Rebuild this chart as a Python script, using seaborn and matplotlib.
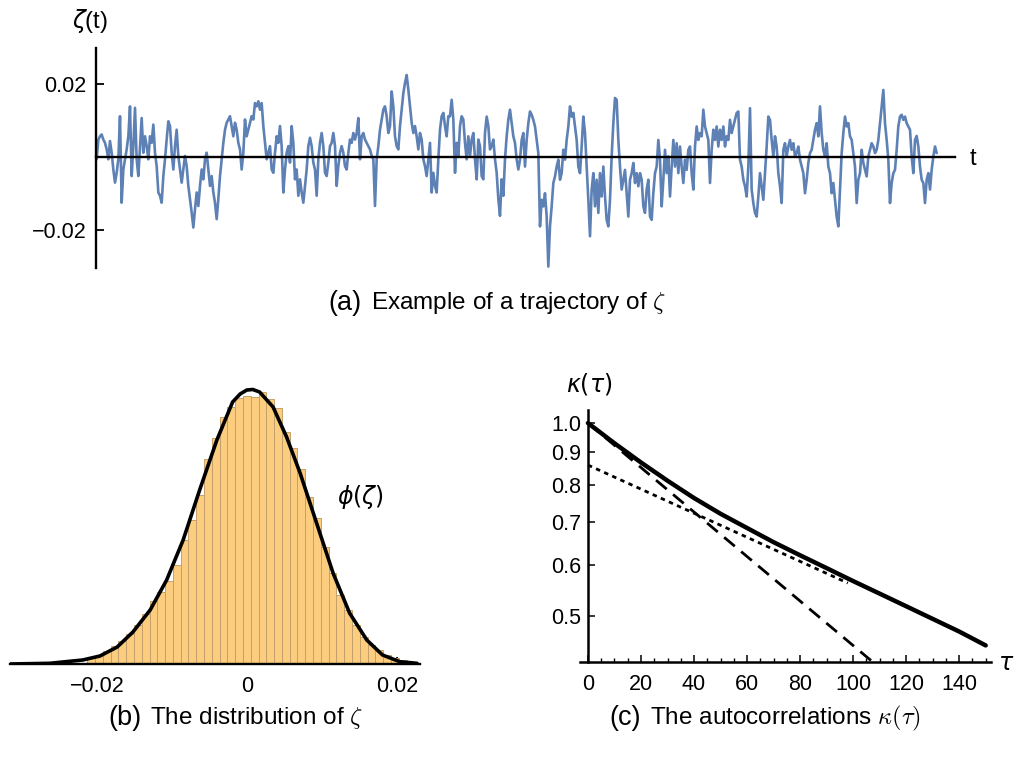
import numpy as np
import matplotlib
matplotlib.use("Agg")
import matplotlib.pyplot as plt
import seaborn as sns
from matplotlib.ticker import FixedLocator, FixedFormatter, NullLocator, MultipleLocator

sns.set_theme(style="white")
plt.rcParams["font.family"] = ["Liberation Sans", "DejaVu Sans"]
plt.rcParams["mathtext.fontset"] = "dejavusans"
plt.rcParams["axes.unicode_minus"] = True
plt.rcParams["text.color"] = "black"
plt.rcParams["xtick.color"] = "black"
plt.rcParams["ytick.color"] = "black"
plt.rcParams["xtick.labelcolor"] = "black"
plt.rcParams["ytick.labelcolor"] = "black"

# ---------------------------------------------------------------- data
# sample path of zeta(t), in units of 1e-3, equally spaced in t
zeta_milli = [
    -0.6, 4.8, 5.7, 6.2, 4.8, 3.9, 2.1, -0.6, 4.4, 1.2, -3.4, -7.0, -4.3, -0.6, 11.2, -12.5,
    -3.4, -0.6, 2.1, 5.7, 13.9, -5.2, 3.0, 13.5, -0.6, -5.2, 3.0, 10.7, 1.2, 5.7, 3.0, -0.6,
    5.7, 3.9, 8.9, 1.2, -2.5, -9.7, -10.6, -12.5, -5.2, -0.6, 4.8, 9.8, 8.5, 1.2, -3.4, 3.0,
    7.5, 0.3, -3.4, -7.0, -3.4, 0.3, -2.5, -7.9, -11.5, -15.2, -19.3, -14.3, -9.7, -13.4, -7.9, -3.4,
    -6.1, -0.6, 1.2, -3.4, -7.9, -5.2, -9.7, -12.5, -17.0, -11.5, -5.2, -0.6, 3.9, 7.5, 9.4, 10.3,
    11.2, 8.5, 5.7, 9.4, 7.5, 3.9, 2.1, -3.4, 1.2, 10.3, 5.7, 7.5, 9.4, 11.2, 10.3, 14.8,
    13.9, 15.3, 13.0, 14.8, 8.5, 3.9, -0.6, 1.2, 3.0, -3.4, -4.3, 1.2, 5.7, 3.9, 8.5, 3.0,
    -9.7, -3.4, 1.2, 3.0, -1.5, 8.5, 3.9, -6.1, -3.4, -10.6,
    -6.1, -9.7, -12.5, -7.9, -3.4, 3.0, 5.3, 3.0, -1.5, -3.4, -10.6, -0.6, 3.9, 6.6, 3.0, -4.3,
    -5.2, -1.5, 3.0, 3.9, 6.6, 3.0, -7.9, -2.5, 1.2, 3.0, 1.2, -2.5, -3.4, 1.2, 4.8, 3.9,
    6.6, 4.8, 6.6, 10.7, -0.6, 5.7, 6.6, 4.8, 3.9, 3.0, 2.1, 0.3, -0.6, -13.4, -0.6, 3.0,
    7.5, 10.3, 13.0, 13.9, 11.2, 6.6, 8.5, 18.0, 13.9, 5.7, 3.0, 2.1, 8.5, 13.0, 17.5, 20.3,
    22.5, 18.5, 13.9, 9.4, 6.6, 8.5, 5.7, 2.1, 6.6, 4.8, -0.6, -2.5, -5.2, -0.6, 3.9, -9.7,
    -4.3, -7.9, -9.7, -0.6, 7.5, 11.2, 12.1, 8.5, 5.7, 11.2, 11.2, 15.7, 10.3, -4.3, 3.9, 0.3,
    8.5, 11.2, 10.3, 3.9, -0.6, 5.7, 0.3, 4.8, 6.6, -0.6, -6.1, 4.8, 3.0, -5.2, -6.1, 6.6,
    11.1, 8.5, 2.1, 3.0, 4.8, -0.6, -4.3, -11.5, -16.1, -6.1, -10.6, -0.6, 5.7, 10.3, 13.0, 9.4,
    5.7, 3.9, -0.6, -3.4,
    -0.7, 4.7, 6.6, -2.6, 4.7, 9.3, 12.5, 11.6, 10.2, 8.4, 4.7, 1.1, -19.0, -11.7, -13.5, -9.9,
    -16.3, -30.0, -19.0, -13.5, -7.1, -5.3, -2.6, -0.7, -6.2, -4.4, 2.0, -0.7, 4.7, 8.4, 13.9, 11.1,
    12.1, 8.4, 4.7, -2.6, -4.4, 2.9, 11.1, 6.6, -2.6, -11.7, -21.7, -8.9, -4.4, -13.5, -6.2, -15.3,
    -4.4, -10.8, -2.6, -10.8, -17.2, -19.0, -11.7, 0.2, 9.3, 16.2, 15.7, 4.7, -2.6, -8.9, -6.2, -3.5,
    -9.9, -16.3, -6.2, -4.4, -1.6, -7.1, -4.4, -8.0, -4.4, -6.2, -13.5, -15.3, -8.9, -6.2, -16.3, -17.2,
    -9.9, -4.4, -2.6, 4.7,
    -0.7, -13.5, -6.2, 2.0, -4.4, 0.2, -10.8, -2.6, 4.7, -2.6, 3.8, -4.4, 2.9, -2.6, -7.1, -0.7,
    -3.5, 2.0, 2.9, -4.4, -8.9, 2.9, 8.4, 4.7, 6.6, 5.7, 13.0, 8.4, 6.6, 4.7, -7.1, 2.0,
    7.5, 4.7, 8.4, 2.9, 7.5, 4.7, 8.4, 2.9, 5.7, 4.7, 10.2, 6.6, 8.4, 10.2, 12.1, 12.5,
    -0.7, -2.6, -6.2, -8.0, -10.8, -2.6, 13.4, -8.9, -12.6, -15.3, -16.3, -10.8, -4.4, -8.0, -11.7, -4.4,
    2.9, 11.1, 10.2, 4.7, 0.2, 5.7, 2.9, -4.4, -8.0, -12.6, 2.0, 3.8, 0.2, 2.9, 4.7, 2.0,
    3.8, 0.2, 1.1, 2.9, -0.7, -2.6, -4.4, -9.9, -6.2, -1.6, 1.1, 2.0, 4.7, 7.5, 9.3, 5.7,
    13.9, 6.6, 2.0, 0.2, 3.8, -2.6, -4.4, -9.9, -7.1, -11.7, -16.3, -19.0, -8.9, 1.1, 6.6, 11.1,
    8.4, 9.3, 5.7, 4.7, 1.1, -2.6, -12.6, -6.2, -4.4, 2.0, -1.6, -3.5, -5.3, 0.2, 2.0, 3.8,
    2.9, 1.1, 2.0, 4.7, 9.3, 13.9, 18.4, 9.3, 4.7, -0.7, -12.6, -7.1, -4.4, -3.5, 2.0, 8.4,
    11.1, 11.6, 10.2, 11.1, 9.3, 8.4, 7.5, 0.2, -4.4, 4.7, 5.8, 2.9, -2.6, -6.2, -7.1, -12.6,
    -6.2, -4.4, -8.9, -3.5, 0.2, 2.9, 1.1,
]

# histogram of zeta (probability density per bin)
hist_lo, hist_hi, hist_nbins = -0.0213, 0.0213, 41
hist_density = [
    1.5, 1.6, 2.6, 3.7, 4.7, 6.1, 7.8, 10.0, 12.6, 14.5, 16.6, 19.8, 24.8, 28.8,
    33.8, 41.0, 45.2, 49.5, 51.4, 53.2, 53.6, 53.5, 54.4, 53.0, 51.2, 46.5, 43.2,
    39.0, 33.4, 29.2, 23.5, 18.2, 13.8, 10.8, 7.8, 5.5, 3.8, 2.7, 1.8, 1.1, 0.7,
]

# fitted stationary density phi(zeta)
phi_zeta = [-0.0316, -0.0263, -0.0219, -0.0196, -0.0173, -0.0152, -0.0129, -0.0107,
            -0.0085, -0.0063, -0.0040, -0.0019, -0.0009, 0.0, 0.0008, 0.0017, 0.0035,
            0.0053, 0.0071, 0.0093, 0.0115, 0.0137, 0.0160, 0.0181, 0.0204, 0.0227]
phi_vals = [0.0, 0.14, 0.8, 1.6, 3.4, 6.4, 10.8, 16.8, 24.8, 34.8, 44.8, 52.4, 54.0,
            54.8, 54.9, 54.4, 51.4, 45.4, 38.2, 28.2, 18.2, 10.2, 4.8, 1.8, 0.46, 0.14]

# autocorrelation kappa(tau) and its two exponential asymptotes
tau_vals = [0, 10, 20, 30, 40, 50, 60, 70, 80, 90, 100, 110, 120, 130, 140, 150]
kappa_vals = [1.000, 0.930, 0.868, 0.813, 0.764, 0.722, 0.686, 0.652, 0.622, 0.594,
              0.567, 0.542, 0.518, 0.495, 0.473, 0.450]
short_tau = [0, 108]
short_kappa = [1.0, 0.422]
long_tau = [0, 98]
long_kappa = [0.86, 0.563]

kappa_ticks = [0.5, 0.6, 0.7, 0.8, 0.9, 1.0]
kappa_ticklabels = ["0.5", "0.6", "0.7", "0.8", "0.9", "1.0"]

# ---------------------------------------------------------------- figure
W, H = 1025, 760
fig = plt.figure(figsize=(W / 100, H / 100), dpi=100)
fig.patch.set_facecolor("white")

LINE_BLUE = "#5E81B5"
TICK_FS = 15.5
LABEL_FS = 17


def px_axes(left, top, right, bottom):
    return fig.add_axes([left / W, 1 - bottom / H, (right - left) / W, (bottom - top) / H])


# (a) trajectory --------------------------------------------------------
ax_a = px_axes(96, 48, 955, 268)
zeta = np.array(zeta_milli) * 1e-3
t = np.arange(len(zeta))
sns.lineplot(x=t, y=zeta, ax=ax_a, color=LINE_BLUE, lw=1.9, sort=False)
ax_a.set_xlim(-0.4, 515)
ax_a.set_ylim(-0.0304, 0.0299)
for s in ("top", "right"):
    ax_a.spines[s].set_visible(False)
ax_a.spines["bottom"].set_position(("data", 0))
for s in ("bottom", "left"):
    ax_a.spines[s].set_color("black")
    ax_a.spines[s].set_linewidth(1.7)
ax_a.set_xticks([])
ax_a.yaxis.set_major_locator(FixedLocator([-0.02, 0.02]))
ax_a.yaxis.set_major_formatter(FixedFormatter(["\u22120.02", "0.02"]))
ax_a.tick_params(axis="y", direction="in", length=6, width=1.3, color="black",
                 labelsize=TICK_FS, labelcolor="black", pad=7, left=True)
ax_a.set_xlabel("")
ax_a.set_ylabel("")
fig.text(72 / W, 1 - 21 / H, r"$\zeta$(t)", fontsize=LABEL_FS, ha="left", va="center")
fig.text(970 / W, 1 - 159 / H, "t", fontsize=LABEL_FS, ha="left", va="center")

# (b) distribution ------------------------------------------------------
ax_b = px_axes(10, 380, 420, 664)
edges = np.linspace(hist_lo, hist_hi, hist_nbins + 1)
centers = 0.5 * (edges[:-1] + edges[1:])
sns.histplot(x=centers, weights=hist_density, bins=edges.tolist(), stat="count", ax=ax_b,
             color="#FCCD7E", edgecolor="#C4A06C", linewidth=0.7, alpha=1.0)
sns.lineplot(x=phi_zeta, y=phi_vals, ax=ax_b, color="black", lw=2.6, sort=False)
ax_b.set_xlim(-0.0316, 0.0231)
ax_b.set_ylim(0, 56.8)
for s in ("top", "right", "left"):
    ax_b.spines[s].set_visible(False)
ax_b.spines["bottom"].set_color("black")
ax_b.spines["bottom"].set_linewidth(1.7)
ax_b.set_yticks([])
ax_b.xaxis.set_major_locator(FixedLocator([-0.02, 0.0, 0.02]))
ax_b.xaxis.set_major_formatter(FixedFormatter(["\u22120.02", "0", "0.02"]))
ax_b.tick_params(axis="x", direction="in", length=5, width=1.3, color="black",
                 labelsize=TICK_FS, labelcolor="black", pad=9, bottom=True)
ax_b.set_xlabel("")
ax_b.set_ylabel("")
fig.text(337 / W, 1 - 497 / H, r"$\phi(\zeta)$", fontsize=LABEL_FS, ha="left", va="center")

# (c) autocorrelations --------------------------------------------------
ax_c = px_axes(580, 410, 991, 662)
sns.lineplot(x=tau_vals, y=kappa_vals, ax=ax_c, color="black", lw=3.2, sort=False)
sns.lineplot(x=short_tau, y=short_kappa, ax=ax_c, color="black", lw=2.0,
             linestyle=(0, (5, 3)), clip_on=False)
sns.lineplot(x=long_tau, y=long_kappa, ax=ax_c, color="black", lw=2.0,
             linestyle=(0, (1.6, 1.6)))
ax_c.set_yscale("log")
ax_c.set_xlim(-3, 152)
ax_c.set_ylim(0.424, 1.048)
for s in ("top", "right"):
    ax_c.spines[s].set_visible(False)
ax_c.spines["left"].set_position(("data", 0))
for s in ("bottom", "left"):
    ax_c.spines[s].set_color("black")
    ax_c.spines[s].set_linewidth(1.8)
ax_c.yaxis.set_major_locator(FixedLocator(kappa_ticks))
ax_c.yaxis.set_major_formatter(FixedFormatter(kappa_ticklabels))
ax_c.yaxis.set_minor_locator(NullLocator())
ax_c.xaxis.set_major_locator(MultipleLocator(20))
ax_c.xaxis.set_minor_locator(MultipleLocator(5))
ax_c.set_xticks(range(0, 141, 20))
ax_c.tick_params(axis="both", which="major", direction="in", length=5, width=1.1,
                 color="black", labelsize=TICK_FS, labelcolor="black", left=True, bottom=True)
ax_c.tick_params(axis="x", which="major", pad=9)
ax_c.tick_params(axis="y", which="major", pad=5)
ax_c.tick_params(axis="x", which="minor", direction="in", length=3, width=1.0,
                 color="black", bottom=True)
ax_c.set_xlabel("")
ax_c.set_ylabel("")
fig.text(566 / W, 1 - 384 / H, r"$\kappa(\tau)$", fontsize=LABEL_FS, ha="left", va="center")
fig.text(998 / W, 1 - 664 / H, r"$\tau$", fontsize=LABEL_FS, ha="left", va="center")

# captions ---------------------------------------------------------------
def caption(tag_right, body_left, y, tag, body):
    fig.text(tag_right / W, 1 - y / H, tag, fontsize=19.5, ha="right", va="center")
    fig.text(body_left / W, 1 - y / H, body, fontsize=17.5, ha="left", va="center",
             math_fontfamily="cm")

caption(362, 371, 303, "(a)", r"Example of a trajectory of $\zeta$")
caption(141, 150, 718, "(b)", r"The distribution of $\zeta$")
caption(641, 650, 718, "(c)", r"The autocorrelations $\kappa(\tau)$")

fig.savefig("out.png", dpi=100, facecolor="white")
